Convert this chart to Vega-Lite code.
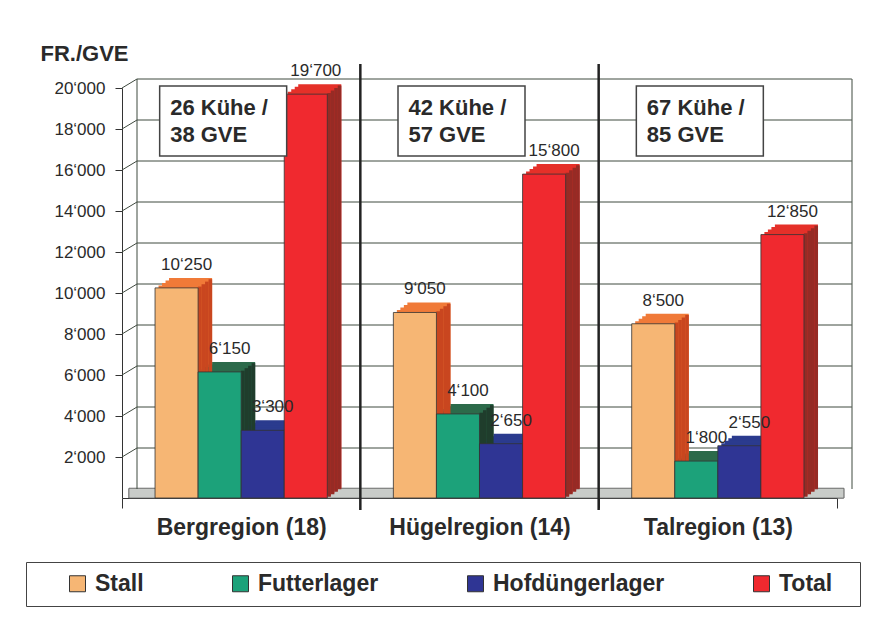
{
  "$schema": "https://vega.github.io/schema/vega-lite/v6.json",
  "width": 715,
  "height": 410,
  "autosize": "none",
  "padding": {"left": 122, "top": 88, "right": 44, "bottom": 128},
  "background": "white",
  "datasets": {
    "bars": [
      {"region": "Bergregion (18)", "series": "Stall", "value": 10250},
      {"region": "Bergregion (18)", "series": "Futterlager", "value": 6150},
      {"region": "Bergregion (18)", "series": "Hofdüngerlager", "value": 3300},
      {"region": "Bergregion (18)", "series": "Total", "value": 19700},
      {"region": "Hügelregion (14)", "series": "Stall", "value": 9050},
      {"region": "Hügelregion (14)", "series": "Futterlager", "value": 4100},
      {"region": "Hügelregion (14)", "series": "Hofdüngerlager", "value": 2650},
      {"region": "Hügelregion (14)", "series": "Total", "value": 15800},
      {"region": "Talregion (13)", "series": "Stall", "value": 8500},
      {"region": "Talregion (13)", "series": "Futterlager", "value": 1800},
      {"region": "Talregion (13)", "series": "Hofdüngerlager", "value": 2550},
      {"region": "Talregion (13)", "series": "Total", "value": 12850}
    ],
    "notes": [
      {"region": "Bergregion (18)", "note": "26 Kühe /\n38 GVE"},
      {"region": "Hügelregion (14)", "note": "42 Kühe /\n57 GVE"},
      {"region": "Talregion (13)", "note": "67 Kühe /\n85 GVE"}
    ],
    "grid": [
      {"v": 2000}, {"v": 4000}, {"v": 6000}, {"v": 8000}, {"v": 10000},
      {"v": 12000}, {"v": 14000}, {"v": 16000}, {"v": 18000}, {"v": 20000}
    ]
  },
  "layer": [
    {
      "data": {"name": "bars"},
      "mark": {"type": "bar", "stroke": "#333", "strokeWidth": 0.8},
      "encoding": {
        "x": {
          "field": "region", "type": "nominal",
          "sort": ["Bergregion (18)", "Hügelregion (14)", "Talregion (13)"],
          "scale": {"paddingInner": 0, "paddingOuter": 0},
          "axis": {"title": null, "labelAngle": 0, "labelFontSize": 23, "labelFontWeight": "bold", "labelColor": "#2a2a2a", "labelPadding": 8, "labelLimit": 400, "tickBand": "extent", "tickSize": 10, "tickColor": "#333", "domainColor": "#333", "grid": false}
        },
        "xOffset": {
          "field": "series", "type": "nominal",
          "sort": ["Stall", "Futterlager", "Hofdüngerlager", "Total"],
          "scale": {"paddingInner": 0, "paddingOuter": 0.767}
        },
        "y": {
          "field": "value", "type": "quantitative",
          "scale": {"domain": [0, 20000], "nice": false},
          "axis": {"title": "FR./GVE", "titleAngle": 0, "titleAlign": "left", "titleBaseline": "alphabetic", "titleX": -82, "titleY": -28, "titleFontSize": 22, "titleFontWeight": "bold", "titleColor": "#2a2a2a", "values": [2000, 4000, 6000, 8000, 10000, 12000, 14000, 16000, 18000, 20000], "labelExpr": "replace(format(datum.value, ','), ',', '‘')", "labelFontSize": 17, "labelColor": "#2a2a2a", "labelPadding": 10, "tickSize": 7, "tickColor": "#333", "domainColor": "#333", "grid": false}
        },
        "color": {
          "field": "series", "type": "nominal",
          "sort": ["Stall", "Futterlager", "Hofdüngerlager", "Total"],
          "scale": {"domain": ["Stall", "Futterlager", "Hofdüngerlager", "Total"], "range": ["#F6B674", "#1CA27A", "#2F3594", "#F0292F"]},
          "legend": {"title": " ", "titleOrient": "left", "titlePadding": 30, "titleFontSize": 10, "labelExpr": "datum.label == 'Total' ? 'Total\u2800' : datum.label"}
        },
        "opacity": {"value": 0}
      }
    },
    {
      "data": {"name": "notes"},
      "mark": {"type": "rect", "xOffset": 7, "x2Offset": 126, "fill": "#C9CCC9", "stroke": "#555", "strokeWidth": 0.6},
      "encoding": {
        "x": {"datum": "Bergregion (18)", "type": "nominal", "bandPosition": 0},
        "x2": {"datum": "Talregion (13)"},
        "y": {"datum": 0, "type": "quantitative"},
        "y2": {"datum": 470}
      }
    },
    {
      "data": {"name": "grid"},
      "mark": {"type": "rule", "xOffset": 15, "x2Offset": 134, "yOffset": -9, "y2Offset": -9, "color": "#3f4a3f", "strokeWidth": 1},
      "encoding": {
        "x": {"datum": "Bergregion (18)", "type": "nominal", "bandPosition": 0},
        "x2": {"datum": "Talregion (13)"},
        "y": {"field": "v", "type": "quantitative"},
        "y2": {"field": "v"}
      }
    },
    {
      "data": {"name": "grid"},
      "mark": {"type": "rule", "x2Offset": -104.17, "y2Offset": -9, "color": "#3f4a3f", "strokeWidth": 1},
      "encoding": {
        "x": {"datum": "Bergregion (18)", "type": "nominal", "bandPosition": 0},
        "x2": {"datum": "Bergregion (18)"},
        "y": {"field": "v", "type": "quantitative"},
        "y2": {"field": "v"}
      }
    },
    {
      "data": {"name": "notes"},
      "transform": [{"filter": "datum.region == 'Bergregion (18)'"}],
      "mark": {"type": "rule", "xOffset": 15, "yOffset": -9, "y2Offset": -9, "color": "#3f4a3f", "strokeWidth": 1},
      "encoding": {
        "x": {"field": "region", "type": "nominal", "sort": ["Bergregion (18)", "Hügelregion (14)", "Talregion (13)"], "bandPosition": 0},
        "y": {"datum": 0, "type": "quantitative"},
        "y2": {"datum": 20000}
      }
    },
    {
      "data": {"name": "notes"},
      "transform": [{"filter": "datum.region == 'Talregion (13)'"}],
      "mark": {"type": "rule", "xOffset": 15, "yOffset": -9, "y2Offset": -9, "color": "#3f4a3f", "strokeWidth": 1},
      "encoding": {
        "x": {"field": "region", "type": "nominal", "sort": ["Bergregion (18)", "Hügelregion (14)", "Talregion (13)"], "bandPosition": 1},
        "y": {"datum": 0, "type": "quantitative"},
        "y2": {"datum": 20000}
      }
    },
    {
      "data": {"name": "bars"},
      "mark": {"type": "bar", "yOffset": -10, "y2Offset": -10},
      "encoding": {
        "x": {"field": "region", "type": "nominal", "sort": ["Bergregion (18)", "Hügelregion (14)", "Talregion (13)"]},
        "xOffset": {"field": "series", "type": "nominal", "sort": ["Stall", "Futterlager", "Hofdüngerlager", "Total"], "scale": {"paddingInner": 0, "paddingOuter": 0.767, "range": [14, 252.333]}},
        "y": {"field": "value", "type": "quantitative"},
        "fill": {"field": "series", "type": "nominal", "legend": null, "scale": {"domain": ["Stall", "Futterlager", "Hofdüngerlager", "Total"], "range": ["#F07A38", "#2C6A4A", "#2B3B8E", "#E53029"]}}
      }
    },
    {
      "data": {"name": "bars"},
      "mark": {"type": "bar", "yOffset": -7.5, "y2Offset": -7.5},
      "encoding": {
        "x": {"field": "region", "type": "nominal", "sort": ["Bergregion (18)", "Hügelregion (14)", "Talregion (13)"]},
        "xOffset": {"field": "series", "type": "nominal", "sort": ["Stall", "Futterlager", "Hofdüngerlager", "Total"], "scale": {"paddingInner": 0, "paddingOuter": 0.767, "range": [10.5, 248.833]}},
        "y": {"field": "value", "type": "quantitative"},
        "fill": {"field": "series", "type": "nominal", "legend": null, "scale": {"domain": ["Stall", "Futterlager", "Hofdüngerlager", "Total"], "range": ["#F07A38", "#2C6A4A", "#2B3B8E", "#E53029"]}}
      }
    },
    {
      "data": {"name": "bars"},
      "mark": {"type": "bar", "yOffset": -5, "y2Offset": -5},
      "encoding": {
        "x": {"field": "region", "type": "nominal", "sort": ["Bergregion (18)", "Hügelregion (14)", "Talregion (13)"]},
        "xOffset": {"field": "series", "type": "nominal", "sort": ["Stall", "Futterlager", "Hofdüngerlager", "Total"], "scale": {"paddingInner": 0, "paddingOuter": 0.767, "range": [7, 245.333]}},
        "y": {"field": "value", "type": "quantitative"},
        "fill": {"field": "series", "type": "nominal", "legend": null, "scale": {"domain": ["Stall", "Futterlager", "Hofdüngerlager", "Total"], "range": ["#F07A38", "#2C6A4A", "#2B3B8E", "#E53029"]}}
      }
    },
    {
      "data": {"name": "bars"},
      "mark": {"type": "bar", "yOffset": -2.5, "y2Offset": -2.5},
      "encoding": {
        "x": {"field": "region", "type": "nominal", "sort": ["Bergregion (18)", "Hügelregion (14)", "Talregion (13)"]},
        "xOffset": {"field": "series", "type": "nominal", "sort": ["Stall", "Futterlager", "Hofdüngerlager", "Total"], "scale": {"paddingInner": 0, "paddingOuter": 0.767, "range": [3.5, 241.833]}},
        "y": {"field": "value", "type": "quantitative"},
        "fill": {"field": "series", "type": "nominal", "legend": null, "scale": {"domain": ["Stall", "Futterlager", "Hofdüngerlager", "Total"], "range": ["#F07A38", "#2C6A4A", "#2B3B8E", "#E53029"]}}
      }
    },
    {
      "data": {"name": "bars"},
      "mark": {"type": "bar", "width": 3.6, "yOffset": -8.75, "y2Offset": -8.75},
      "encoding": {
        "x": {"field": "region", "type": "nominal", "sort": ["Bergregion (18)", "Hügelregion (14)", "Talregion (13)"]},
        "xOffset": {"field": "series", "type": "nominal", "sort": ["Stall", "Futterlager", "Hofdüngerlager", "Total"], "scale": {"paddingInner": 0, "paddingOuter": 0.767, "range": [33.8, 272.133]}},
        "y": {"field": "value", "type": "quantitative"},
        "fill": {"field": "series", "type": "nominal", "legend": null, "scale": {"domain": ["Stall", "Futterlager", "Hofdüngerlager", "Total"], "range": ["#C9461F", "#1F3D2C", "#1B1E52", "#962B25"]}}
      }
    },
    {
      "data": {"name": "bars"},
      "mark": {"type": "bar", "width": 3.6, "yOffset": -6.25, "y2Offset": -6.25},
      "encoding": {
        "x": {"field": "region", "type": "nominal", "sort": ["Bergregion (18)", "Hügelregion (14)", "Talregion (13)"]},
        "xOffset": {"field": "series", "type": "nominal", "sort": ["Stall", "Futterlager", "Hofdüngerlager", "Total"], "scale": {"paddingInner": 0, "paddingOuter": 0.767, "range": [30.3, 268.633]}},
        "y": {"field": "value", "type": "quantitative"},
        "fill": {"field": "series", "type": "nominal", "legend": null, "scale": {"domain": ["Stall", "Futterlager", "Hofdüngerlager", "Total"], "range": ["#C9461F", "#1F3D2C", "#1B1E52", "#962B25"]}}
      }
    },
    {
      "data": {"name": "bars"},
      "mark": {"type": "bar", "width": 3.6, "yOffset": -3.75, "y2Offset": -3.75},
      "encoding": {
        "x": {"field": "region", "type": "nominal", "sort": ["Bergregion (18)", "Hügelregion (14)", "Talregion (13)"]},
        "xOffset": {"field": "series", "type": "nominal", "sort": ["Stall", "Futterlager", "Hofdüngerlager", "Total"], "scale": {"paddingInner": 0, "paddingOuter": 0.767, "range": [26.8, 265.133]}},
        "y": {"field": "value", "type": "quantitative"},
        "fill": {"field": "series", "type": "nominal", "legend": null, "scale": {"domain": ["Stall", "Futterlager", "Hofdüngerlager", "Total"], "range": ["#C9461F", "#1F3D2C", "#1B1E52", "#962B25"]}}
      }
    },
    {
      "data": {"name": "bars"},
      "mark": {"type": "bar", "width": 3.6, "yOffset": -1.25, "y2Offset": -1.25},
      "encoding": {
        "x": {"field": "region", "type": "nominal", "sort": ["Bergregion (18)", "Hügelregion (14)", "Talregion (13)"]},
        "xOffset": {"field": "series", "type": "nominal", "sort": ["Stall", "Futterlager", "Hofdüngerlager", "Total"], "scale": {"paddingInner": 0, "paddingOuter": 0.767, "range": [23.3, 261.633]}},
        "y": {"field": "value", "type": "quantitative"},
        "fill": {"field": "series", "type": "nominal", "legend": null, "scale": {"domain": ["Stall", "Futterlager", "Hofdüngerlager", "Total"], "range": ["#C9461F", "#1F3D2C", "#1B1E52", "#962B25"]}}
      }
    },
    {
      "data": {"name": "bars"},
      "mark": {"type": "bar", "stroke": "#333", "strokeWidth": 0.8},
      "encoding": {
        "x": {"field": "region", "type": "nominal", "sort": ["Bergregion (18)", "Hügelregion (14)", "Talregion (13)"]},
        "xOffset": {"field": "series", "type": "nominal", "sort": ["Stall", "Futterlager", "Hofdüngerlager", "Total"], "scale": {"paddingInner": 0, "paddingOuter": 0.767, "range": [0, 238.333]}},
        "y": {"field": "value", "type": "quantitative"},
        "fill": {"field": "series", "type": "nominal", "legend": null, "scale": {"domain": ["Stall", "Futterlager", "Hofdüngerlager", "Total"], "range": ["#F6B674", "#1CA27A", "#2F3594", "#F0292F"]}}
      }
    },
    {
      "data": {"name": "bars"},
      "mark": {"type": "text", "dx": 10, "dy": -23, "baseline": "middle", "align": "center", "fontSize": 17, "color": "#2a2a2a"},
      "encoding": {
        "x": {"field": "region", "type": "nominal", "sort": ["Bergregion (18)", "Hügelregion (14)", "Talregion (13)"]},
        "xOffset": {"field": "series", "type": "nominal", "sort": ["Stall", "Futterlager", "Hofdüngerlager", "Total"], "scale": {"type": "band", "paddingInner": 0, "paddingOuter": 0.767, "range": [0, 238.333]}},
        "y": {"field": "value", "type": "quantitative"},
        "text": {"field": "value", "type": "quantitative", "format": ","}
      }
    },
    {
      "data": {"name": "notes"},
      "transform": [{"filter": "datum.region != 'Bergregion (18)'"}],
      "mark": {"type": "rule", "color": "#222", "strokeWidth": 2.5},
      "encoding": {
        "x": {"field": "region", "type": "nominal", "sort": ["Bergregion (18)", "Hügelregion (14)", "Talregion (13)"], "bandPosition": 0},
        "y": {"datum": 21170, "type": "quantitative"},
        "y2": {"datum": -580}
      }
    },
    {
      "data": {"name": "notes"},
      "mark": {"type": "point", "shape": "M-1,-0.55L1,-0.55L1,0.55L-1,0.55Z", "size": 16129, "filled": true, "fill": "white", "stroke": "#444", "strokeWidth": 1.5, "opacity": 1, "xOffset": -18},
      "encoding": {
        "x": {"field": "region", "type": "nominal", "sort": ["Bergregion (18)", "Hügelregion (14)", "Talregion (13)"]},
        "y": {"datum": 18390, "type": "quantitative"}
      }
    },
    {
      "data": {"name": "notes"},
      "mark": {"type": "text", "align": "left", "baseline": "middle", "lineBreak": "\n", "lineHeight": 27, "fontSize": 22, "fontWeight": "bold", "color": "#2a2a2a", "xOffset": -71, "dy": -13},
      "encoding": {
        "x": {"field": "region", "type": "nominal", "sort": ["Bergregion (18)", "Hügelregion (14)", "Talregion (13)"]},
        "y": {"datum": 18390, "type": "quantitative"},
        "text": {"field": "note", "type": "nominal"}
      }
    }
  ],
  "resolve": {"scale": {"fill": "independent", "xOffset": "independent"}},
  "config": {
    "font": "Liberation Sans",
    "view": {"stroke": null},
    "locale": {
      "number": {"decimal": ".", "thousands": "‘", "grouping": [3], "currency": ["", ""]}
    },
    "legend": {
      "orient": "none",
      "legendX": -96,
      "legendY": 474,
      "direction": "horizontal",
      "symbolType": "square",
      "symbolSize": 256,
      "symbolStrokeColor": "#333",
      "symbolStrokeWidth": 1,
      "symbolOpacity": 1,
      "labelFontSize": 23,
      "labelFontWeight": "bold",
      "labelColor": "#2a2a2a",
      "labelOffset": 6,
      "labelLimit": 400,
      "columnPadding": 85,
      "strokeColor": "#444",
      "padding": 10
    }
  }
}
